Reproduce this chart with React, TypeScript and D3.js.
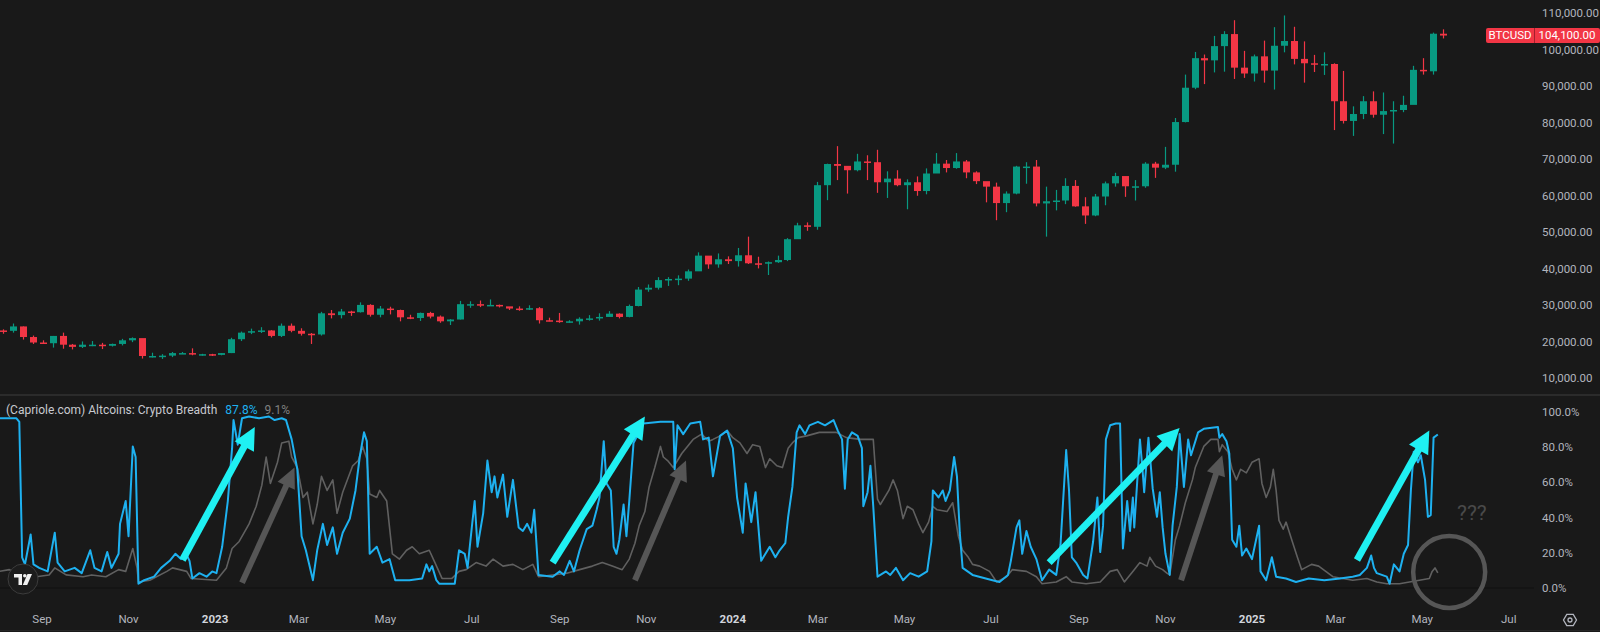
import * as d3 from "d3";
import { useEffect, useRef } from "react";

const width = 1600;
const height = 632;
const plotRight = 1534;

const parseDate = d3.utcParse("%Y-%m-%d");

// BTCUSD weekly candles, thousands of USD, one entry per week (weeks start on Monday)
const candleStart = "2022-08-01";
const firstOpen = 23.3;

const close2022 = [23.2, 24.4, 21.5, 20.0, 19.8, 21.8, 19.4, 18.8, 19.4, 19.4, 19.1, 19.6, 20.6, 21.2, 16.3, 16.3, 16.4, 17.1, 17.1, 16.8, 16.8, 16.6];
const high2022 = [23.6, 25.2, 24.4, 21.9, 20.6, 21.8, 22.7, 19.6, 20.3, 20.4, 19.9, 19.7, 21.0, 21.4, 21.0, 17.2, 16.8, 17.4, 17.4, 18.4, 16.9, 16.9];
const low2022 = [22.4, 22.7, 20.8, 19.6, 19.6, 18.6, 18.3, 18.1, 18.5, 19.0, 18.2, 18.9, 19.2, 20.1, 15.6, 15.9, 15.5, 16.0, 16.9, 16.5, 16.4, 16.3];

const close2023 = [17.1, 20.9, 22.7, 23.1, 23.3, 21.8, 24.6, 23.2, 22.4, 22.2, 28.0, 27.5, 28.5, 28.3, 30.3, 27.6, 29.3, 28.9, 26.9, 26.7, 28.1, 27.1, 25.8, 26.3, 30.5, 30.5, 30.2, 30.3, 29.9, 29.3, 29.0, 29.4, 26.1, 26.0, 25.8, 25.8, 26.5, 26.6, 27.0, 27.9, 27.0, 30.0, 34.5, 35.0, 37.1, 37.4, 37.5, 39.5, 43.8, 41.4, 42.8, 42.3];
const high2023 = [17.1, 21.3, 23.0, 23.8, 24.2, 23.4, 25.2, 25.2, 23.9, 22.6, 28.4, 28.9, 29.2, 28.7, 31.0, 30.5, 30.0, 29.8, 29.0, 27.6, 28.2, 28.4, 27.4, 26.4, 31.4, 31.3, 31.5, 31.8, 30.4, 29.7, 29.9, 30.2, 29.7, 26.8, 28.1, 26.1, 26.9, 27.5, 28.0, 28.6, 28.0, 30.4, 35.2, 35.9, 37.9, 37.9, 38.4, 40.0, 44.7, 43.4, 44.4, 43.6];
const low2023 = [16.5, 17.1, 20.4, 22.3, 22.6, 21.4, 21.5, 22.8, 21.9, 19.6, 21.9, 26.6, 26.6, 27.3, 28.2, 27.1, 26.9, 27.7, 25.8, 26.4, 25.9, 26.6, 25.4, 24.8, 26.3, 29.5, 29.7, 30.1, 29.6, 28.9, 28.7, 28.9, 25.2, 25.8, 25.4, 25.4, 24.9, 26.0, 26.0, 27.2, 26.6, 26.9, 29.9, 33.9, 34.5, 35.5, 35.7, 36.9, 39.9, 40.2, 40.5, 41.5];

const close2024 = [43.9, 41.7, 41.6, 42.0, 42.6, 48.3, 52.1, 51.7, 63.1, 68.9, 68.4, 67.2, 69.6, 69.4, 63.9, 64.9, 63.1, 63.9, 61.5, 66.3, 69.0, 67.8, 69.6, 66.6, 64.2, 62.7, 58.2, 60.8, 68.2, 68.2, 58.1, 58.7, 58.9, 62.9, 57.3, 54.8, 60.0, 63.6, 65.6, 62.8, 62.8, 69.0, 67.9, 68.7, 80.4, 89.8, 97.9, 97.3, 101.2, 104.5, 95.3, 93.7, 98.4];
const high2024 = [45.9, 49.0, 43.5, 42.2, 43.8, 48.6, 52.8, 52.9, 64.0, 69.0, 73.8, 68.1, 71.7, 71.3, 72.8, 66.9, 67.2, 64.7, 65.5, 67.7, 71.9, 70.0, 71.9, 70.0, 66.9, 63.3, 63.8, 61.4, 68.4, 69.4, 70.0, 62.7, 61.8, 65.0, 64.5, 59.8, 60.7, 64.1, 66.5, 65.3, 64.5, 69.4, 69.5, 73.6, 81.5, 93.4, 99.6, 98.9, 104.0, 105.3, 108.3, 99.9, 98.9];
const low2024 = [40.8, 41.5, 40.3, 38.5, 41.8, 42.3, 48.4, 50.6, 50.9, 59.0, 64.5, 60.8, 66.9, 64.5, 61.0, 59.6, 62.8, 56.5, 60.2, 60.6, 66.7, 66.6, 67.6, 65.0, 63.4, 58.4, 53.5, 55.7, 60.6, 63.5, 57.3, 49.0, 56.2, 57.9, 57.2, 52.5, 54.6, 57.6, 62.7, 59.9, 58.9, 62.4, 65.1, 67.5, 66.8, 80.3, 89.4, 90.8, 94.0, 94.2, 92.2, 92.5, 91.5];

const close2025 = [94.5, 101.3, 102.6, 97.7, 96.5, 96.1, 96.3, 86.1, 80.7, 82.6, 86.1, 82.4, 83.4, 83.7, 85.1, 94.7, 94.3, 104.6, 104.1];
const high2025 = [102.7, 106.4, 109.6, 106.5, 102.5, 98.8, 99.5, 96.5, 94.4, 84.7, 87.5, 88.8, 88.5, 86.1, 87.6, 95.8, 97.9, 104.9, 105.8];
const low2025 = [91.2, 89.3, 99.5, 96.2, 91.2, 94.1, 93.3, 78.2, 80.0, 76.6, 81.2, 81.6, 77.1, 74.5, 83.1, 86.9, 93.4, 93.4, 103.3];

const lastPrice = 104100;

// (Capriole.com) Altcoins: Crypto Breadth, percent
const breadthFast: [string, number][] = [
	["2022-08-02", 97], ["2022-08-14", 97], ["2022-08-16", 95], ["2022-08-18", 18], ["2022-08-20", 14], ["2022-08-24", 31], ["2022-08-26", 14], ["2022-08-30", 12], ["2022-09-05", 10], ["2022-09-10", 32], ["2022-09-12", 15], ["2022-09-17", 10], ["2022-09-24", 12], ["2022-09-29", 9], ["2022-10-05", 22], ["2022-10-08", 12], ["2022-10-13", 10], ["2022-10-17", 21], ["2022-10-20", 12], ["2022-10-25", 20], ["2022-10-26", 37], ["2022-10-30", 50], ["2022-11-01", 30], ["2022-11-04", 81], ["2022-11-06", 75], ["2022-11-08", 3], ["2022-11-12", 5], ["2022-11-19", 7], ["2022-11-24", 12], ["2022-11-30", 16], ["2022-12-04", 20], ["2022-12-08", 17], ["2022-12-11", 21], ["2022-12-14", 16], ["2022-12-16", 6], ["2022-12-21", 9], ["2022-12-26", 7], ["2022-12-30", 10],
	["2023-01-02", 9], ["2023-01-06", 24], ["2023-01-10", 50], ["2023-01-13", 80], ["2023-01-14", 96], ["2023-01-17", 82], ["2023-01-20", 97], ["2023-01-25", 98], ["2023-02-01", 97], ["2023-02-08", 98], ["2023-02-12", 96], ["2023-02-17", 97], ["2023-02-20", 96], ["2023-02-24", 85], ["2023-02-28", 68], ["2023-03-03", 30], ["2023-03-06", 22], ["2023-03-11", 5], ["2023-03-14", 22], ["2023-03-18", 37], ["2023-03-21", 25], ["2023-03-25", 35], ["2023-03-28", 20], ["2023-04-01", 32], ["2023-04-06", 40], ["2023-04-10", 56], ["2023-04-13", 75], ["2023-04-16", 89], ["2023-04-18", 84], ["2023-04-20", 20], ["2023-04-25", 24], ["2023-04-29", 15], ["2023-05-04", 17], ["2023-05-08", 5], ["2023-05-18", 5], ["2023-05-27", 6], ["2023-05-30", 14], ["2023-06-01", 10], ["2023-06-03", 13], ["2023-06-06", 5], ["2023-06-08", 3], ["2023-06-19", 3], ["2023-06-22", 22], ["2023-06-26", 20], ["2023-06-28", 12], ["2023-07-01", 35], ["2023-07-03", 50], ["2023-07-05", 24], ["2023-07-09", 43], ["2023-07-12", 73], ["2023-07-15", 55], ["2023-07-17", 64], ["2023-07-19", 52], ["2023-07-23", 65], ["2023-07-26", 41], ["2023-07-30", 62], ["2023-08-03", 35], ["2023-08-06", 33], ["2023-08-09", 37], ["2023-08-12", 32], ["2023-08-14", 45], ["2023-08-17", 8], ["2023-08-27", 7], ["2023-09-01", 10], ["2023-09-04", 8], ["2023-09-08", 16], ["2023-09-11", 10], ["2023-09-15", 22], ["2023-09-20", 34], ["2023-09-24", 36], ["2023-09-27", 45], ["2023-09-29", 52], ["2023-10-02", 84], ["2023-10-04", 60], ["2023-10-07", 56], ["2023-10-09", 24], ["2023-10-11", 20], ["2023-10-13", 28], ["2023-10-16", 48], ["2023-10-18", 30], ["2023-10-20", 50], ["2023-10-23", 83], ["2023-10-30", 94], ["2023-11-11", 95], ["2023-11-20", 95], ["2023-11-21", 68], ["2023-11-23", 93], ["2023-11-27", 88], ["2023-12-02", 94], ["2023-12-09", 95], ["2023-12-11", 85], ["2023-12-15", 86], ["2023-12-18", 64], ["2023-12-23", 87], ["2023-12-28", 90],
	["2024-01-01", 80], ["2024-01-04", 52], ["2024-01-08", 32], ["2024-01-10", 60], ["2024-01-14", 38], ["2024-01-17", 55], ["2024-01-21", 16], ["2024-01-27", 24], ["2024-01-31", 18], ["2024-02-03", 22], ["2024-02-07", 26], ["2024-02-09", 41], ["2024-02-12", 58], ["2024-02-15", 89], ["2024-02-17", 93], ["2024-02-21", 88], ["2024-02-24", 93], ["2024-03-01", 95], ["2024-03-06", 93], ["2024-03-12", 96], ["2024-03-15", 90], ["2024-03-18", 85], ["2024-03-20", 57], ["2024-03-22", 85], ["2024-03-25", 89], ["2024-03-29", 87], ["2024-04-01", 80], ["2024-04-02", 47], ["2024-04-05", 55], ["2024-04-07", 70], ["2024-04-09", 47], ["2024-04-12", 7], ["2024-04-18", 10], ["2024-04-21", 8], ["2024-04-25", 12], ["2024-04-30", 5], ["2024-05-05", 9], ["2024-05-11", 7], ["2024-05-17", 10], ["2024-05-20", 27], ["2024-05-21", 56], ["2024-05-25", 52], ["2024-05-28", 56], ["2024-05-30", 50], ["2024-06-02", 56], ["2024-06-05", 75], ["2024-06-07", 64], ["2024-06-09", 32], ["2024-06-11", 12], ["2024-06-18", 8], ["2024-07-02", 5], ["2024-07-07", 4], ["2024-07-13", 8], ["2024-07-15", 16], ["2024-07-19", 35], ["2024-07-21", 39], ["2024-07-23", 20], ["2024-07-26", 33], ["2024-07-29", 24], ["2024-08-02", 17], ["2024-08-06", 5], ["2024-08-11", 11], ["2024-08-16", 8], ["2024-08-19", 25], ["2024-08-23", 79], ["2024-08-25", 56], ["2024-08-27", 18], ["2024-08-30", 15], ["2024-09-04", 8], ["2024-09-07", 6], ["2024-09-11", 27], ["2024-09-14", 52], ["2024-09-16", 21], ["2024-09-18", 36], ["2024-09-20", 85], ["2024-09-23", 93], ["2024-09-27", 94], ["2024-09-30", 94], ["2024-10-02", 23], ["2024-10-05", 50], ["2024-10-07", 33], ["2024-10-09", 52], ["2024-10-10", 35], ["2024-10-14", 85], ["2024-10-16", 66], ["2024-10-17", 55], ["2024-10-20", 86], ["2024-10-23", 57], ["2024-10-26", 41], ["2024-10-28", 55], ["2024-10-30", 35], ["2024-11-01", 20], ["2024-11-04", 8], ["2024-11-06", 36], ["2024-11-09", 58], ["2024-11-11", 88], ["2024-11-14", 58], ["2024-11-17", 85], ["2024-11-19", 76], ["2024-11-24", 89], ["2024-11-28", 91], ["2024-12-08", 92], ["2024-12-09", 86], ["2024-12-11", 88], ["2024-12-14", 84], ["2024-12-16", 77], ["2024-12-18", 28], ["2024-12-21", 24], ["2024-12-23", 36], ["2024-12-25", 19], ["2024-12-28", 23],
	["2025-01-01", 17], ["2025-01-06", 36], ["2025-01-07", 10], ["2025-01-11", 5], ["2025-01-15", 18], ["2025-01-18", 7], ["2025-01-25", 6], ["2025-02-01", 4], ["2025-02-10", 6], ["2025-02-21", 5], ["2025-03-04", 6], ["2025-03-13", 7], ["2025-03-18", 8], ["2025-03-23", 12], ["2025-03-26", 19], ["2025-03-28", 12], ["2025-03-30", 9], ["2025-04-06", 7], ["2025-04-08", 3], ["2025-04-11", 14], ["2025-04-15", 10], ["2025-04-18", 20], ["2025-04-21", 25], ["2025-04-23", 56], ["2025-04-25", 78], ["2025-04-28", 72], ["2025-04-30", 76], ["2025-05-03", 62], ["2025-05-05", 41], ["2025-05-07", 42], ["2025-05-09", 86], ["2025-05-12", 87.8],
];

const breadthSlow: [string, number][] = [
	["2022-08-02", 10], ["2022-08-09", 11], ["2022-08-14", 9], ["2022-08-21", 7], ["2022-08-28", 7], ["2022-09-06", 8], ["2022-09-10", 12], ["2022-09-18", 8], ["2022-09-30", 7], ["2022-10-06", 8], ["2022-10-16", 7], ["2022-10-25", 11], ["2022-10-30", 10], ["2022-11-04", 23], ["2022-11-07", 12], ["2022-11-08", 4], ["2022-11-16", 5], ["2022-11-28", 10], ["2022-12-02", 12], ["2022-12-12", 10], ["2022-12-15", 6],
	["2023-01-02", 5], ["2023-01-09", 12], ["2023-01-13", 23], ["2023-01-18", 27], ["2023-01-25", 37], ["2023-01-30", 47], ["2023-02-03", 59], ["2023-02-06", 75], ["2023-02-09", 60], ["2023-02-14", 72], ["2023-02-17", 83], ["2023-02-22", 84], ["2023-02-24", 75], ["2023-02-28", 69], ["2023-03-04", 52], ["2023-03-07", 55], ["2023-03-11", 37], ["2023-03-14", 48], ["2023-03-17", 64], ["2023-03-21", 56], ["2023-03-25", 62], ["2023-03-28", 43], ["2023-04-01", 55], ["2023-04-08", 70], ["2023-04-12", 73], ["2023-04-15", 81], ["2023-04-18", 74], ["2023-04-20", 54], ["2023-04-25", 52], ["2023-04-27", 56], ["2023-05-02", 50], ["2023-05-06", 20], ["2023-05-11", 17], ["2023-05-16", 22], ["2023-05-20", 24], ["2023-05-25", 20], ["2023-06-01", 22], ["2023-06-05", 15], ["2023-06-10", 6], ["2023-06-17", 6], ["2023-06-22", 10], ["2023-06-27", 11], ["2023-07-04", 15], ["2023-07-11", 13], ["2023-07-16", 17], ["2023-07-23", 13], ["2023-07-30", 14], ["2023-08-06", 11], ["2023-08-13", 14], ["2023-08-17", 7], ["2023-08-27", 8], ["2023-09-06", 9], ["2023-09-15", 11], ["2023-09-24", 13], ["2023-10-01", 15], ["2023-10-08", 13], ["2023-10-15", 11], ["2023-10-20", 17], ["2023-10-24", 26], ["2023-10-27", 36], ["2023-10-31", 44], ["2023-11-03", 58], ["2023-11-07", 69], ["2023-11-11", 81], ["2023-11-13", 75], ["2023-11-16", 73], ["2023-11-20", 69], ["2023-11-23", 73], ["2023-11-26", 77], ["2023-11-30", 81], ["2023-12-04", 85], ["2023-12-10", 88], ["2023-12-15", 84], ["2023-12-18", 85], ["2023-12-23", 87], ["2023-12-28", 90],
	["2024-01-01", 86], ["2024-01-06", 83], ["2024-01-11", 77], ["2024-01-15", 82], ["2024-01-20", 81], ["2024-01-24", 69], ["2024-01-27", 74], ["2024-02-01", 70], ["2024-02-05", 69], ["2024-02-09", 80], ["2024-02-12", 83], ["2024-02-16", 86], ["2024-02-22", 87], ["2024-03-02", 89], ["2024-03-14", 89], ["2024-03-21", 86], ["2024-03-31", 85], ["2024-04-09", 85], ["2024-04-12", 51], ["2024-04-14", 48], ["2024-04-20", 56], ["2024-04-23", 62], ["2024-04-26", 56], ["2024-04-30", 40], ["2024-05-03", 47], ["2024-05-07", 45], ["2024-05-11", 37], ["2024-05-14", 32], ["2024-05-18", 38], ["2024-05-21", 47], ["2024-05-24", 45], ["2024-05-31", 44], ["2024-06-04", 49], ["2024-06-08", 30], ["2024-06-11", 22], ["2024-06-15", 18], ["2024-06-18", 14], ["2024-06-23", 13], ["2024-06-30", 10], ["2024-07-05", 4], ["2024-07-12", 7], ["2024-07-16", 11], ["2024-07-26", 10], ["2024-08-02", 7], ["2024-08-06", 3], ["2024-08-16", 4], ["2024-08-23", 7], ["2024-08-27", 4], ["2024-09-06", 3], ["2024-09-16", 4], ["2024-09-23", 10], ["2024-09-28", 11], ["2024-10-03", 4], ["2024-10-09", 10], ["2024-10-14", 15], ["2024-10-19", 13], ["2024-10-21", 18], ["2024-10-25", 13], ["2024-10-30", 11], ["2024-11-02", 9], ["2024-11-04", 8], ["2024-11-08", 28], ["2024-11-11", 36], ["2024-11-15", 49], ["2024-11-20", 62], ["2024-11-22", 69], ["2024-11-24", 73], ["2024-11-28", 81], ["2024-12-03", 85], ["2024-12-08", 85], ["2024-12-09", 78], ["2024-12-11", 82], ["2024-12-15", 78], ["2024-12-18", 68], ["2024-12-21", 62], ["2024-12-24", 68], ["2024-12-28", 66],
	["2025-01-01", 72], ["2025-01-06", 74], ["2025-01-08", 60], ["2025-01-11", 52], ["2025-01-14", 58], ["2025-01-16", 68], ["2025-01-18", 56], ["2025-01-20", 39], ["2025-01-23", 34], ["2025-01-25", 38], ["2025-01-29", 28], ["2025-02-02", 18], ["2025-02-05", 11], ["2025-02-12", 14], ["2025-02-17", 13], ["2025-02-22", 10], ["2025-02-27", 7], ["2025-03-06", 6], ["2025-03-13", 5], ["2025-03-23", 6], ["2025-03-30", 4], ["2025-04-06", 3], ["2025-04-15", 3], ["2025-04-22", 4], ["2025-04-29", 5], ["2025-05-06", 6], ["2025-05-08", 10], ["2025-05-10", 12], ["2025-05-12", 9.1],
];

// hand drawn annotations, in chart coordinates [startDate, start%, endDate, end%]
const cyanArrows: [string, number, string, number][] = [
	["2022-12-09", 16.5, "2023-01-29", 92],
	["2023-08-27", 15, "2023-10-31", 98],
	["2024-08-11", 15, "2024-11-11", 91.5],
	["2025-03-16", 16.5, "2025-05-06", 90],
];
const greyArrows: [string, number, string, number][] = [
	["2023-01-20", 3.5, "2023-02-26", 69],
	["2023-10-24", 5, "2023-11-29", 73],
	["2024-11-12", 5, "2024-12-11", 76],
];
const questionCircle: [string, number] = ["2025-05-20", 9.7];
const questionMark: [string, number] = ["2025-06-05", 42.6];

// axis ticks
const priceTicks = [10000, 20000, 30000, 40000, 50000, 60000, 70000, 80000, 90000, 100000, 110000];
const percentTicks = [0, 20, 40, 60, 80, 100];
const timeTicks = ["2022-09-01", "2022-11-01", "2023-01-01", "2023-03-01", "2023-05-01", "2023-07-01", "2023-09-01", "2023-11-01", "2024-01-01", "2024-03-01", "2024-05-01", "2024-07-01", "2024-09-01", "2024-11-01", "2025-01-01", "2025-03-01", "2025-05-01", "2025-07-01"];

const BG = "#191919";
const AXIS_TEXT = "#b2b5be";
const UP = "#089981";
const DOWN = "#f23645";
const FAST = "#1eb1f0";
const SLOW = "#606060";
const CYAN = "#1ff0f2";
const ARROW_GREY = "#565656";
const FONT = "Roboto, 'Noto Sans', sans-serif";

const App = () => {
	const svgRef = useRef<SVGSVGElement | null>(null);

	useEffect(() => {
		const svg = d3.select(svgRef.current);
		svg.selectAll("*").remove();

		//time scale shared by both panes
		const x = d3
			.scaleUtc()
			.domain([parseDate("2022-09-01")!, parseDate("2025-01-01")!])
			.range([42, 1252]);
		const yPrice = d3.scaleLinear().domain([0, 110000]).range([415.5, 14]);
		const yPct = d3.scaleLinear().domain([0, 100]).range([589, 413]);

		svg.append("rect").attr("width", width).attr("height", height).attr("fill", BG);

		const defs = svg.append("defs");
		defs.append("clipPath").attr("id", "price-clip").append("rect")
			.attr("x", 0).attr("y", 0).attr("width", plotRight).attr("height", 393);
		defs.append("clipPath").attr("id", "pct-clip").append("rect")
			.attr("x", 0).attr("y", 397).attr("width", plotRight).attr("height", 203);

		//pane separator and bottom lines
		svg.append("line").attr("x1", 0).attr("x2", width).attr("y1", 395).attr("y2", 395)
			.attr("stroke", "#2b2b2b").attr("stroke-width", 2);
		svg.append("line").attr("x1", 0).attr("x2", plotRight).attr("y1", 588).attr("y2", 588)
			.attr("stroke", "#101010").attr("stroke-width", 1);
		svg.append("line").attr("x1", 0).attr("x2", width).attr("y1", 630.5).attr("y2", 630.5)
			.attr("stroke", "#262626").attr("stroke-width", 1);

		//candles
		const closes = [...close2022, ...close2023, ...close2024, ...close2025];
		const highs = [...high2022, ...high2023, ...high2024, ...high2025];
		const lows = [...low2022, ...low2023, ...low2024, ...low2025];
		const start = parseDate(candleStart)!;
		const candles = closes.map((c, i) => ({
			date: d3.utcHour.offset(d3.utcDay.offset(start, i * 7), 84),
			open: (i === 0 ? firstOpen : closes[i - 1]) * 1000,
			close: c * 1000,
			high: highs[i] * 1000,
			low: lows[i] * 1000,
		}));

		const candleG = svg.append("g").attr("clip-path", "url(#price-clip)");
		const bodyW = 7;
		const candle = candleG.selectAll("g").data(candles).enter().append("g");
		candle.append("line")
			.attr("x1", (d) => Math.round(x(d.date)) + 0.5)
			.attr("x2", (d) => Math.round(x(d.date)) + 0.5)
			.attr("y1", (d) => yPrice(d.high))
			.attr("y2", (d) => yPrice(d.low))
			.attr("stroke", (d) => (d.close >= d.open ? UP : DOWN))
			.attr("stroke-width", 1.2);
		candle.append("rect")
			.attr("x", (d) => Math.round(x(d.date)) + 0.5 - bodyW / 2)
			.attr("width", bodyW)
			.attr("y", (d) => yPrice(Math.max(d.open, d.close)))
			.attr("height", (d) => Math.max(1.5, Math.abs(yPrice(d.open) - yPrice(d.close))))
			.attr("fill", (d) => (d.close >= d.open ? UP : DOWN));

		//breadth lines
		const line = d3
			.line<[string, number]>()
			.x((d) => x(parseDate(d[0])!))
			.y((d) => yPct(d[1]))
			.curve(d3.curveLinear);
		const pctG = svg.append("g").attr("clip-path", "url(#pct-clip)");
		pctG.append("path").attr("d", line(breadthSlow)).attr("fill", "none")
			.attr("stroke", SLOW).attr("stroke-width", 1.6).attr("stroke-linejoin", "round");
		pctG.append("path").attr("d", line(breadthFast)).attr("fill", "none")
			.attr("stroke", FAST).attr("stroke-width", 2).attr("stroke-linejoin", "round");

		//arrows
		const drawArrow = (a: [string, number, string, number], color: string, shaft: number, headLen: number, headW: number) => {
			const x1 = x(parseDate(a[0])!);
			const y1 = yPct(a[1]);
			const x2 = x(parseDate(a[2])!);
			const y2 = yPct(a[3]);
			const len = Math.hypot(x2 - x1, y2 - y1);
			const ux = (x2 - x1) / len;
			const uy = (y2 - y1) / len;
			const bx = x2 - ux * headLen;
			const by = y2 - uy * headLen;
			svg.append("line").attr("x1", x1).attr("y1", y1).attr("x2", bx + ux * 2).attr("y2", by + uy * 2)
				.attr("stroke", color).attr("stroke-width", shaft);
			svg.append("path")
				.attr("d", `M${x2},${y2}L${bx - uy * headW / 2},${by + ux * headW / 2}L${bx + uy * headW / 2},${by - ux * headW / 2}Z`)
				.attr("fill", color);
		};
		greyArrows.forEach((a) => drawArrow(a, ARROW_GREY, 6, 20, 19));
		cyanArrows.forEach((a) => drawArrow(a, CYAN, 7, 22, 22));

		svg.append("circle")
			.attr("cx", x(parseDate(questionCircle[0])!))
			.attr("cy", yPct(questionCircle[1]))
			.attr("r", 36)
			.attr("fill", "none")
			.attr("stroke", ARROW_GREY)
			.attr("stroke-width", 4.5);
		svg.append("text")
			.attr("x", x(parseDate(questionMark[0])!))
			.attr("y", yPct(questionMark[1]))
			.attr("text-anchor", "middle")
			.attr("dominant-baseline", "middle")
			.attr("font-family", FONT)
			.attr("font-size", 21)
			.attr("fill", "#4a4a4a")
			.text("???");

		//legend
		const legend = svg.append("text").attr("x", 6).attr("y", 411)
			.attr("dominant-baseline", "middle").attr("font-family", FONT).attr("font-size", 12);
		legend.append("tspan").attr("fill", "#c8cad0").text("(Capriole.com) Altcoins: Crypto Breadth");
		legend.append("tspan").attr("dx", 8).attr("fill", FAST)
			.text(`${breadthFast[breadthFast.length - 1][1].toFixed(1)}%`);
		legend.append("tspan").attr("dx", 7).attr("fill", "#808080")
			.text(`${breadthSlow[breadthSlow.length - 1][1].toFixed(1)}%`);

		//right axes
		const fmtPrice = d3.format(",.2f");
		svg.append("g").selectAll("text").data(priceTicks).enter().append("text")
			.attr("x", 1542).attr("y", (d) => yPrice(d))
			.attr("dominant-baseline", "middle").attr("font-family", FONT).attr("font-size", 11.5)
			.attr("fill", AXIS_TEXT).text((d) => fmtPrice(d));
		svg.append("g").selectAll("text").data(percentTicks).enter().append("text")
			.attr("x", 1542).attr("y", (d) => yPct(d))
			.attr("dominant-baseline", "middle").attr("font-family", FONT).attr("font-size", 11.5)
			.attr("fill", AXIS_TEXT).text((d) => `${d.toFixed(1)}%`);

		//last price badge
		const badgeY = yPrice(lastPrice);
		svg.append("rect").attr("x", 1486).attr("y", badgeY - 7.5).attr("width", 114).attr("height", 15)
			.attr("rx", 2).attr("fill", DOWN);
		svg.append("line").attr("x1", 1534.5).attr("x2", 1534.5).attr("y1", badgeY - 7.5).attr("y2", badgeY + 7.5)
			.attr("stroke", "#a3202c").attr("stroke-width", 1);
		svg.append("text").attr("x", 1510).attr("y", badgeY).attr("text-anchor", "middle")
			.attr("dominant-baseline", "middle").attr("font-family", FONT).attr("font-size", 11.5)
			.attr("fill", "#ffffff").text("BTCUSD");
		svg.append("text").attr("x", 1567).attr("y", badgeY).attr("text-anchor", "middle")
			.attr("dominant-baseline", "middle").attr("font-family", FONT).attr("font-size", 11.5)
			.attr("fill", "#ffffff").text(fmtPrice(lastPrice));

		//time axis
		const fmtMonth = d3.utcFormat("%b");
		const fmtYear = d3.utcFormat("%Y");
		svg.append("g").selectAll("text").data(timeTicks.map((t) => parseDate(t)!)).enter().append("text")
			.attr("x", (d) => x(d)).attr("y", 620)
			.attr("text-anchor", "middle").attr("dominant-baseline", "middle")
			.attr("font-family", FONT).attr("font-size", 11.5)
			.attr("font-weight", (d) => (d.getUTCMonth() === 0 ? 700 : 400))
			.attr("fill", (d) => (d.getUTCMonth() === 0 ? "#d1d4dc" : AXIS_TEXT))
			.text((d) => (d.getUTCMonth() === 0 ? fmtYear(d) : fmtMonth(d)));

		//settings icon
		const hex = d3.range(6).map((i) => {
			const a = (Math.PI / 3) * i;
			return [1570 + 6.5 * Math.cos(a), 620 + 6.5 * Math.sin(a)];
		});
		svg.append("path").attr("d", `M${hex.map((p) => p.join(",")).join("L")}Z`)
			.attr("fill", "none").attr("stroke", AXIS_TEXT).attr("stroke-width", 1.3);
		svg.append("circle").attr("cx", 1570).attr("cy", 620).attr("r", 2)
			.attr("fill", "none").attr("stroke", AXIS_TEXT).attr("stroke-width", 1.3);

		//logo
		const logo = svg.append("g").attr("transform", "translate(23,579)");
		logo.append("circle").attr("r", 15).attr("fill", "#1c1c1c").attr("stroke", "#3c3c3c").attr("stroke-width", 1);
		logo.append("path").attr("d", "M-9,-5H-1V6H-4.5V-1.6H-9Z").attr("fill", "#f0f0f0");
		logo.append("circle").attr("cx", 1.8).attr("cy", -3.2).attr("r", 1.8).attr("fill", "#f0f0f0");
		logo.append("path").attr("d", "M4.5,-5H9L4.2,6H-0.2Z").attr("fill", "#f0f0f0");
	}, []);

	return (
		<svg
			ref={svgRef}
			width={width}
			height={height}
			style={{ position: "absolute", left: 0, top: 0, display: "block" }}
		/>
	);
};

export default App;
